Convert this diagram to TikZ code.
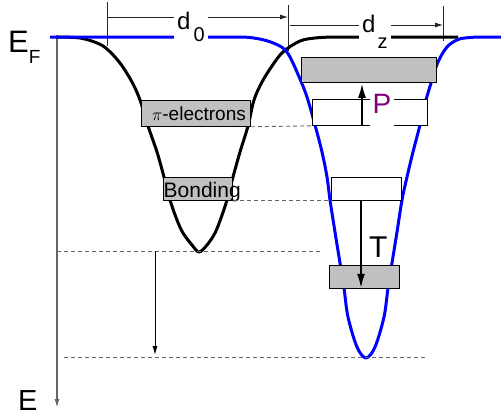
\documentclass[tikz,border=0pt]{standalone}
\usepackage{fontspec}
\setmainfont{Liberation Sans}
\usetikzlibrary{arrows.meta}
\definecolor{boxgray}{RGB}{192,192,192}
\definecolor{axgray}{RGB}{100,100,100}
\definecolor{ppurple}{RGB}{128,0,128}
\begin{document}
\begin{tikzpicture}[x=1pt,y=-1pt,
  lvl/.style={draw=black, line width=0.8pt, fill=boxgray, inner sep=0, anchor=north west},
  wlvl/.style={lvl, fill=white},
  guide/.style={draw=axgray, dash pattern=on 4pt off 3pt, line width=0.9pt},
  dimline/.style={draw=black!85, line width=0.8pt},
  dimtip/.style={dimline, -{Latex[length=8pt,width=5pt]}},
  well/.style={line width=3pt, line join=round},
  bigarrow/.style={line width=2.5pt, -{Latex[length=15pt,width=8pt]}},
  lbl/.style={inner sep=0, anchor=base west}
]
\useasboundingbox (0,0) rectangle (501,415);

% coordinates
\coordinate (t1a) at (107,2);   \coordinate (t1b) at (107,46);
\coordinate (t2a) at (288,5);   \coordinate (t2b) at (288,51);
\coordinate (t3a) at (443,6);   \coordinate (t3b) at (443,41);
\coordinate (d0a) at (107,17);  \coordinate (d0b) at (288,17);
\coordinate (dza) at (290,25);  \coordinate (dzb) at (443,25);
\coordinate (axtop) at (57,35); \coordinate (axbot) at (57,408);
\coordinate (g1a) at (57,251);  \coordinate (g1b) at (320,251);
\coordinate (g2a) at (64,357);  \coordinate (g2b) at (425,357);
\coordinate (sa) at (155,251);  \coordinate (sb) at (155,355);

% dimension lines
\draw[dimline] (t1a) -- (t1b);
\draw[dimline] (t2a) -- (t2b);
\draw[dimline] (t3a) -- (t3b);
\draw[dimtip] (d0a) -- (d0b);
\draw[dimtip] (dza) -- (dzb);

% axis
\draw[axgray, line width=1.5pt, -{Latex[length=9pt,width=5pt]}] (axtop) -- (axbot);

% black well
\draw[well, black] plot[smooth, tension=0.55] coordinates {(57,37) (80,38) (97,43) (107,49) (120,63) (132,82) (140,100) (148,126) (157,152) (164,177) (170,200) (177,220) (183,233) (192,245) (199,252) (207,245) (215,233) (221,218) (227,200) (233,177) (240,152) (248,126) (254,100) (262,82) (272,66) (283,52) (300,41) (317,37.8) (335,37)} -- (458,37);

% blue well
\draw[well, blue] (50,37) -- (240,37) -- plot[smooth, tension=0.55] coordinates {(240,37) (250,37.5) (262,39.5) (272,42.5) (283,48) (290,57) (300,79) (307,97) (315,125) (322,152) (327,177) (330,200) (335,232) (340,263) (344,288) (348,317) (357,347) (366,358) (375,347) (384,317) (388,288) (392,263) (397,232) (402,200) (407,177) (413,152) (420,125) (426,100) (432,80) (438,62) (447,47) (458,39.5) (470,37.5) (482,37)} -- (501,37);

% dimension labels
\node[lbl, fill=white, inner xsep=3pt, inner ysep=2pt, font=\fontsize{24}{26}\selectfont] (d0) at (174,29) {d\kern3pt\raisebox{-12pt}{\fontsize{20}{22}\selectfont 0}};
\node[lbl, fill=white, inner xsep=3pt, inner ysep=2pt, font=\fontsize{24}{26}\selectfont] (dz) at (359,32) {d\kern2pt\raisebox{-16pt}{\fontsize{20}{22}\selectfont z}};

% E_F and E
\node[lbl, font=\fontsize{31}{33}\selectfont] (ef) at (8,52) {E\raisebox{-11pt}{\fontsize{19}{21}\selectfont F}};
\node[lbl, font=\fontsize{29}{31}\selectfont] (e) at (18,410) {E};

% levels
\node[lvl, minimum width=135pt, minimum height=25pt] (topbox) at (301,57) {};
\node[wlvl, minimum width=115pt, minimum height=26pt] (wb1) at (312,99) {};
\node[lvl, minimum width=109pt, minimum height=26pt] (pibox) at (141,100) {};
\node[lvl, minimum width=69pt, minimum height=23pt] (bond) at (163,177) {};
\node[wlvl, minimum width=70pt, minimum height=23pt] (wb2) at (331,177) {};
\node[lvl, minimum width=70pt, minimum height=23pt] (lowbox) at (329,265) {};

\node[lbl, font=\fontsize{19}{21}\selectfont] (pitxt) at (152,120) {$\pi$-electrons};
\node[lbl, font=\fontsize{21}{23}\selectfont] (bondtxt) at (163.5,197) {Bonding};

% guides
\draw[guide] (pibox.south east) -- (wb1.south west);
\draw[guide] (bond.south east) -- (wb2.south west);
\draw[guide] (g1a) -- (g1b);
\draw[guide] (g2a) -- (g2b);
\draw[line width=1pt, -{Latex[length=9pt,width=5pt]}] (sa) -- (sb);

% transitions
\coordinate (px) at (362,0);
\coordinate (tx) at (361,0);
\node[lbl, fill=white, inner xsep=2.5pt, inner ysep=1pt, text=ppurple, font=\fontsize{28}{30}\selectfont] (plab) at (370,113) {P\rule[-14pt]{0pt}{1pt}};
\draw[bigarrow] (wb1.south -| px) -- (topbox.south -| px);
\draw[bigarrow] (wb2.south -| tx) -- (lowbox.south -| tx);
\node[lbl, font=\fontsize{30}{32}\selectfont] (tlab) at (369,257) {T};
\end{tikzpicture}
\end{document}
